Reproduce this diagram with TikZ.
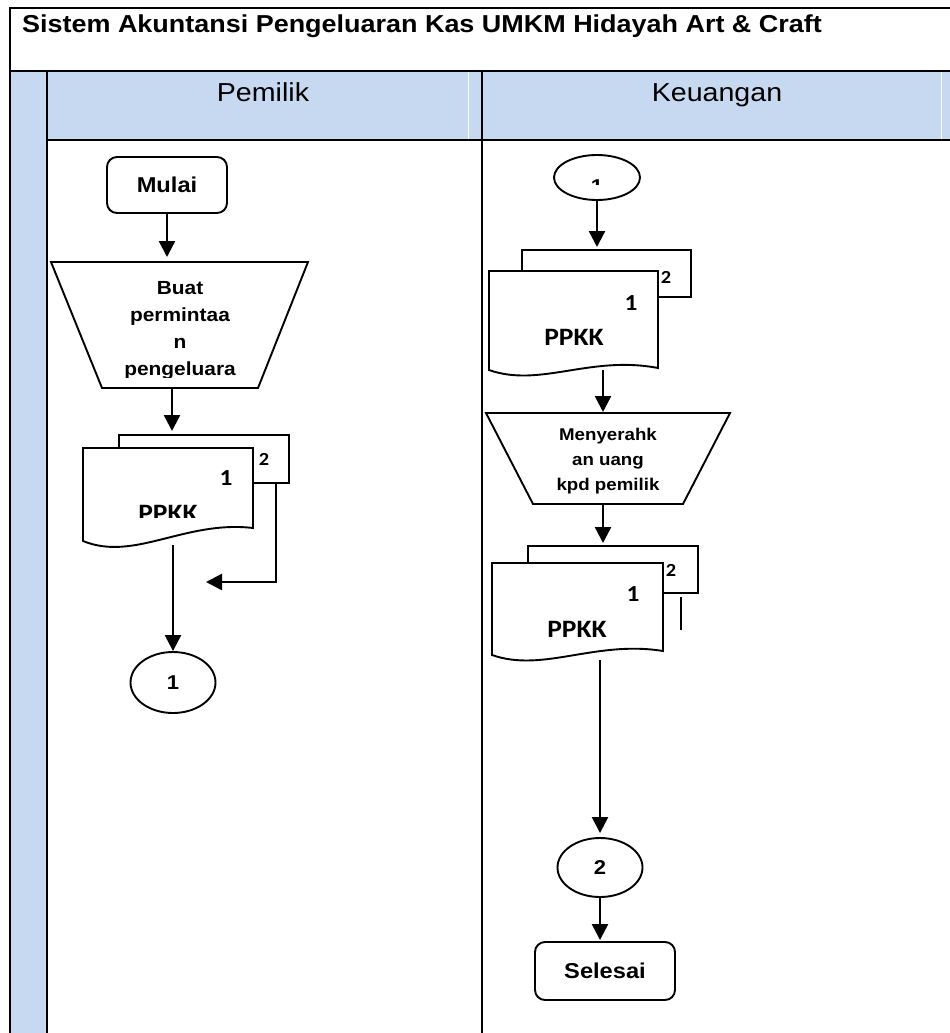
\documentclass[tikz,border=0pt]{standalone}
\usepackage{fontspec}
\setmainfont{Liberation Sans}[FakeStretch=1.1]
\newfontfamily\docfont{Carlito}[FakeStretch=1.1]
\usetikzlibrary{arrows.meta,shapes.geometric}
\definecolor{laneblue}{RGB}{198,217,240}
\newcommand\fs[2]{\fontsize{#1}{#2}\selectfont}
\begin{document}
\begin{tikzpicture}[x=1pt,y=-1pt,
  grid/.style={line width=2pt},
  shp/.style={draw,line width=1.9pt,fill=white},
  term/.style={shp,rounded corners=10pt,inner sep=0pt,font=\fs{21.5}{25}\bfseries},
  conn/.style={shp,ellipse,inner sep=0pt,font=\fs{20}{24}\bfseries},
  flow/.style={line width=2.4pt,-{Triangle[width=16pt,length=16pt]}},
  proc/.style={align=center,inner sep=0pt,font=\bfseries},
  docnum/.style={inner sep=0pt,font=\docfont\bfseries\fs{23}{27}},
  doccopy/.style={inner sep=0pt,font=\docfont\bfseries\fs{18.5}{22}},
  doctitle/.style={inner sep=0pt,font=\docfont\bfseries\fs{25}{29}}]
\useasboundingbox (0,0) rectangle (950,1033);

% ---- swimlane table ----
\fill[laneblue] (10,71) rectangle (47,1033);
\fill[laneblue] (47,71) rectangle (950,140);
\draw[white,line width=0.8pt] (468,71) -- (468,140);
\draw[white,line width=0.8pt] (941,71) -- (941,140);
\draw[grid] (950,8) -- (10,8) -- (10,1033);
\draw[grid] (10,71) -- (950,71);
\draw[grid] (47,71) -- (47,1033);
\draw[grid] (47,140) -- (950,140);
\draw[grid] (482,71) -- (482,1033);

\node[anchor=base west,inner sep=0pt,font=\fs{24.5}{29}\bfseries] (title) at (22,33)
  {Sistem Akuntansi Pengeluaran Kas UMKM Hidayah Art \& Craft};
\node[anchor=base,inner sep=0pt,font=\fs{26}{30}] (lane1) at (263,101) {Pemilik};
\node[anchor=base,inner sep=0pt,font=\fs{26}{30}] (lane2) at (717,101) {Keuangan};

% ---- Pemilik lane ----
\node[term,minimum width=120pt,minimum height=56pt] (start) at (167,185) {Mulai};

\coordinate (t1n) at (167,262);
\coordinate (t1s) at (172,388);
\draw[shp] (51,262) -- (308,262) -- (258,388) -- (102,388) -- cycle;
\begin{scope}
  \clip (40,262) rectangle (320,377);
  \node[proc,font=\fs{19}{27}\bfseries] (ask) at (180,330)
    {Buat\\permintaa\\n\\pengeluara};
\end{scope}

\coordinate (d1n) at (172,435);
\coordinate (d1b) at (276,483);
\coordinate (d1s) at (173,545);
\coordinate (ret) at (206,582);
\draw[shp] (119,435) rectangle (289,483);
\node[doccopy] (d1copy) at (264,459) {2};
\draw[shp] (83,448) -- (253,448) -- (253,528)
  .. controls (185,520) and (134,562) .. (83,541) -- cycle;
\node[docnum] (d1num) at (226,478) {1};
\begin{scope}
  \clip (90,495) rectangle (250,517);
  \node[doctitle,anchor=base] (d1name) at (168,521) {PPKK};
\end{scope}

\node[conn,minimum width=85pt,minimum height=61pt] (c1) at (173,682.5) {1};

\draw[flow,shorten >=5pt] (start.south) -- (t1n);
\draw[flow,shorten >=4pt] (t1s) -- (d1n);
\draw[flow] (d1s) -- (c1.north);
\draw[flow] (d1b) -- (d1b |- ret) -- (ret);

% ---- Keuangan lane ----
\node[conn,minimum width=86pt,minimum height=45pt] (c1r) at (597,177.5) {};
\begin{scope}
  \clip (560,160) rectangle (640,184.5);
  \node[inner sep=0pt,font=\fs{20}{24}\bfseries] (c1rlabel) at (597,187) {1};
\end{scope}

\coordinate (r1n) at (597,250);
\coordinate (r1s) at (603,370);
\draw[shp] (522,250) rectangle (691,297);
\begin{scope}
  \clip (650,271.5) rectangle (690,296);
  \node[doccopy] (r1copy) at (666,277) {2};
\end{scope}
\draw[shp] (489,271) -- (658,271) -- (658,368)
  .. controls (590,355) and (540,388) .. (489,370) -- cycle;
\node[docnum] (r1num) at (631,303) {1};
\node[doctitle] (r1name) at (574,337) {PPKK};

\coordinate (t2n) at (603,413);
\coordinate (t2s) at (603,504);
\draw[shp] (486,413) -- (730,413) -- (683,504) -- (533,504) -- cycle;
\node[proc,font=\fs{17}{25}\bfseries] (give) at (608,461)
  {Menyerahk\\an uang\\kpd pemilik};

\coordinate (r2n) at (603,546);
\coordinate (r2s) at (600,660);
\draw[shp] (528,546) rectangle (698,593);
\node[doccopy] (r2copy) at (671,570) {2};
\draw[shp] (492,563) -- (663,563) -- (663,651)
  .. controls (595,640) and (543,673) .. (492,655) -- cycle;
\node[docnum] (r2num) at (633,594) {1};
\node[doctitle] (r2name) at (577,629) {PPKK};
\coordinate (tickA) at (681,597);
\coordinate (tickB) at (681,630);
\draw[line width=1.9pt] (tickA) -- (tickB);

\node[conn,minimum width=85pt,minimum height=59pt] (c2) at (600,867.5) {2};
\node[term,minimum width=140pt,minimum height=58pt] (finish) at (605,971) {Selesai};

\draw[flow,shorten >=3pt] (c1r.south) -- (r1n);
\draw[flow,shorten >=1pt] (r1s) -- (t2n);
\draw[flow,shorten >=3pt] (t2s) -- (r2n);
\draw[flow,shorten >=4pt] (r2s) -- (c2.north);
\draw[flow,shorten >=1pt] (c2.south) -- (c2.south |- finish.north);
\end{tikzpicture}
\end{document}
